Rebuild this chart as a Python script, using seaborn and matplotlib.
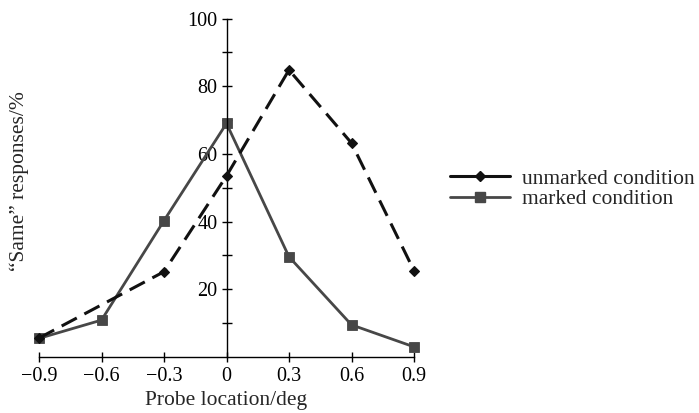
#!/usr/bin/env python3
"""Recreate: "Same" responses by probe location, unmarked vs marked condition."""

import matplotlib
matplotlib.use("Agg")
import matplotlib.pyplot as plt
import pandas as pd
import seaborn as sns
from matplotlib.lines import Line2D

# Data
unmarked_x = [-0.9, -0.3, 0.0, 0.3, 0.6, 0.9]
unmarked_y = [5.6, 25.2, 53.5, 84.8, 63.2, 25.5]
marked_x = [-0.9, -0.6, -0.3, 0.0, 0.3, 0.6, 0.9]
marked_y = [5.5, 10.9, 40.3, 69.0, 29.6, 9.5, 3.0]

x_ticks = [-0.9, -0.6, -0.3, 0.0, 0.3, 0.6, 0.9]
x_ticklabels = ["\u22120.9", "\u22120.6", "\u22120.3", "0", "0.3", "0.6", "0.9"]
y_major = [20, 40, 60, 80, 100]
y_minor = [10, 30, 50, 70, 90]

series_names = ["unmarked condition", "marked condition"]

UNMARKED_COLOR = "#111111"
MARKED_COLOR = "#474747"


def main():
    sns.set_style("ticks")
    plt.rcParams["font.family"] = ["Liberation Serif", "DejaVu Serif"]
    plt.rcParams["axes.unicode_minus"] = True

    fig = plt.figure(figsize=(6.99, 4.13), dpi=100)
    ax = fig.add_axes([39 / 699, 56 / 413, 375 / 699, 338.5 / 413])

    df_un = pd.DataFrame({"x": unmarked_x, "y": unmarked_y})
    df_mk = pd.DataFrame({"x": marked_x, "y": marked_y})

    # dashed black line with small diamonds
    sns.lineplot(
        data=df_un, x="x", y="y", ax=ax, color=UNMARKED_COLOR,
        linewidth=2.2, linestyle=(0, (5.6, 2.8)), marker="D",
        markersize=4.6, markeredgewidth=0.8, markeredgecolor=UNMARKED_COLOR,
        clip_on=False, zorder=3,
    )
    # solid grey line with squares
    sns.lineplot(
        data=df_mk, x="x", y="y", ax=ax, color=MARKED_COLOR,
        linewidth=2.0, marker="s", markersize=7.6, markeredgewidth=0.6,
        markeredgecolor=MARKED_COLOR, clip_on=False, zorder=2,
    )

    ax.set_xlim(-0.9, 0.9)
    ax.set_ylim(0, 100)

    # y axis crosses at x = 0
    ax.spines["top"].set_visible(False)
    ax.spines["right"].set_visible(False)
    ax.spines["left"].set_position(("data", 0))
    for side in ["left", "bottom"]:
        ax.spines[side].set_linewidth(1.0)
        ax.spines[side].set_color("black")

    ax.set_xticks(x_ticks)
    ax.set_xticklabels(x_ticklabels)
    ax.set_yticks(y_major)
    ax.set_yticklabels([str(v) for v in y_major])
    ax.set_yticks(y_minor, minor=True)
    ax.tick_params(axis="both", which="both", direction="inout",
                   length=7, width=1, colors="black", labelsize=14.5)
    ax.tick_params(axis="x", pad=4)
    ax.tick_params(axis="y", pad=3)

    ax.set_xlabel("Probe location/deg", fontsize=15.5, labelpad=3)
    ax.set_ylabel("")
    fig.text(19 / 699, 1 - 181 / 413, "\u201cSame\u201d responses/%",
             rotation=90, ha="center", va="center", fontsize=15.5)

    # legend shows solid handles for both series
    handles = [
        Line2D([], [], color=UNMARKED_COLOR, linewidth=2.2, marker="D",
               markersize=4.6, markeredgecolor=UNMARKED_COLOR),
        Line2D([], [], color=MARKED_COLOR, linewidth=2.0, marker="s",
               markersize=7.6, markeredgecolor=MARKED_COLOR),
    ]
    fig.legend(
        handles, series_names, loc="center left",
        bbox_to_anchor=(450 / 699, 1 - 189 / 413), frameon=False,
        fontsize=15.5, handlelength=2.8, handletextpad=0.55,
        labelspacing=0.0, borderpad=0, borderaxespad=0,
    )

    fig.savefig("out.png", dpi=100, facecolor="white")
    plt.close(fig)


if __name__ == "__main__":
    main()
